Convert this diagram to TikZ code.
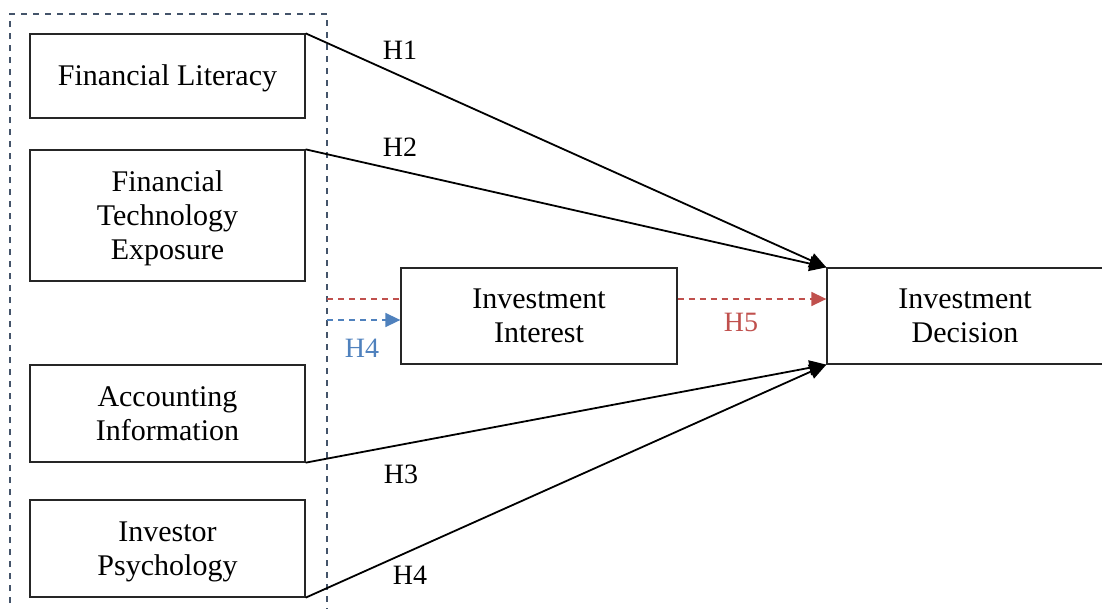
\documentclass[tikz,border=0pt]{standalone}
\usepackage{fontspec}
\setmainfont{Liberation Serif}
\usetikzlibrary{arrows.meta}
\definecolor{framec}{HTML}{44546A}
\definecolor{hred}{HTML}{C0504D}
\definecolor{hblue}{HTML}{4F81BD}
% box text, set a little below the geometric centre
\newcommand\boxtext[1]{\raisebox{-3pt}[\height][\depth]{\begin{tabular}{@{}c@{}}#1\end{tabular}}}
\tikzset{
  box/.style={draw=black!85, line width=1.3pt, rectangle, align=center,
    inner sep=0pt, font=\fontsize{30}{34}\selectfont},
  link/.style={line width=1.8pt, -{Triangle[length=17pt,width=15pt]}},
  reddash/.style={hred, line width=1.6pt, dash pattern=on 6pt off 5pt},
  bluedash/.style={hblue, line width=1.6pt, dash pattern=on 6pt off 5pt},
  frame/.style={framec, line width=1.7pt, dash pattern=on 6pt off 6pt},
  hlab/.style={font=\fontsize{28}{30}\selectfont, inner sep=0pt}
}
\begin{document}
\begin{tikzpicture}[x=1pt, y=-1pt]
\useasboundingbox (0,0) rectangle (1102,608);
\clip (0,0) rectangle (1102,608);

% dashed grouping frame around the independent variables
\coordinate (fbl) at (10,615);
\coordinate (ftl) at (10,14);
\coordinate (ftr) at (327,14);
\coordinate (fbr) at (327,615);
\draw[frame] (fbl) -- (ftl) -- (ftr) -- (fbr);

% variables
\node[box, minimum width=275pt, minimum height=84pt] (fl) at (167.5,76) {\boxtext{Financial Literacy}};
\node[box, minimum width=275pt, minimum height=131pt] (fte) at (167.5,215.5) {\boxtext{Financial\\Technology\\Exposure}};
\node[box, minimum width=275pt, minimum height=97pt] (ai) at (167.5,413.5) {\boxtext{Accounting\\Information}};
\node[box, minimum width=275pt, minimum height=97pt] (ip) at (167.5,548.5) {\boxtext{Investor\\Psychology}};
\node[box, minimum width=276pt, minimum height=96pt] (ii) at (539,316) {\boxtext{Investment\\Interest}};
\node[box, minimum width=276pt, minimum height=96pt] (id) at (965,316) {\boxtext{Investment\\Decision}};

% direct effects
\draw[link] (fl.north east) -- (id.north west);
\draw[link] (fte.north east) -- (id.north west);
\draw[link] (ai.south east) -- (id.south west);
\draw[link] (ip.south east) -- (id.south west);

\node[hlab] (h1) at (400,50) {H1};
\node[hlab] (h2) at (400,147) {H2};
\node[hlab] (h3) at (401,474) {H3};
\node[hlab] (h4) at (410,575) {H4};

% mediated paths
\coordinate (rs) at (327,299);
\coordinate (bs) at (327,320);
\draw[reddash] (rs) -- (rs -| ii.west);
\draw[reddash, -{Triangle[length=15pt,width=14pt]}] (rs -| ii.east) -- (rs -| id.west);
\draw[bluedash, -{Triangle[length=15pt,width=14pt]}] (bs) -- (bs -| ii.west);

\node[hlab, text=hblue] (h4b) at (362,348) {H4};
\node[hlab, text=hred] (h5) at (741,322) {H5};
\end{tikzpicture}
\end{document}
